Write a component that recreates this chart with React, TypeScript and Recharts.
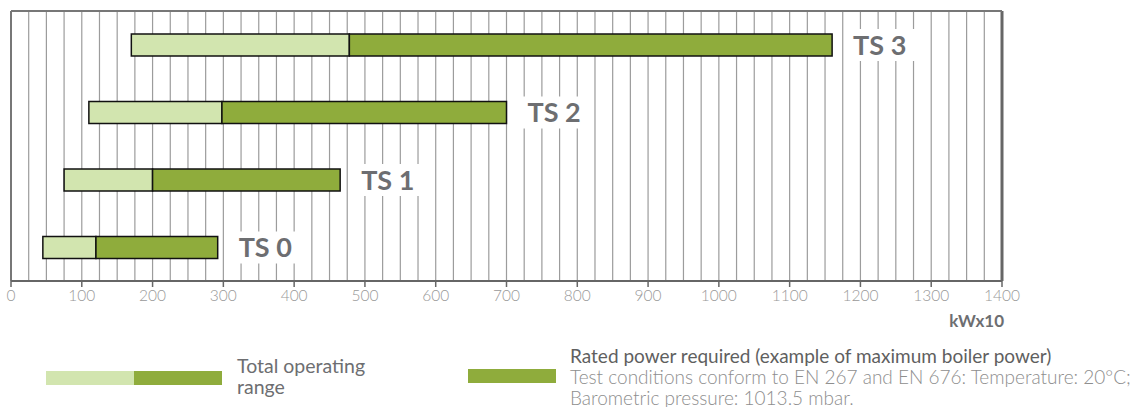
import { BarChart, Bar, XAxis, YAxis, CartesianGrid, ReferenceLine, LabelList } from 'recharts';

const models = ['TS 3', 'TS 2', 'TS 1', 'TS 0'];
const rangeStart = [170, 110, 75, 45];
const ratedStart = [478, 298, 200, 120];
const maxPower = [1160, 700, 465, 292];
const xTicks = [0, 100, 200, 300, 400, 500, 600, 700, 800, 900, 1000, 1100, 1200, 1300, 1400];
const gridStep = 25;

const LIGHT = '#d2e5af';
const DARK = '#8fac3c';
const TEXT = '#6d6e71';

const chartData = models.map((name, i) => ({
  name,
  offset: rangeStart[i],
  total: ratedStart[i] - rangeStart[i],
  rated: maxPower[i] - ratedStart[i],
}));

const gridValues = Array.from({ length: 1400 / gridStep + 1 }, (_, i) => i * gridStep);

const ModelLabel = (props: any) => {
  const { x, y, width, height, value } = props;
  const lx = x + width + 21;
  const cy = y + height / 2;
  return (
    <g>
      <rect x={lx - 6} y={cy - 16} width={72} height={32} fill="#fff" />
      <text x={lx} y={cy} dy="0.36em" fontSize={27} fontWeight={700} fill={TEXT} fontFamily="Lato">
        {value}
      </text>
    </g>
  );
};

export default function App() {
  return (
    <div style={{ position: 'fixed', left: 0, top: 0, width: 1134, height: 407, background: '#fff', fontFamily: 'Lato', overflow: 'hidden' }}>
      <BarChart
        width={1134}
        height={335}
        data={chartData}
        layout="vertical"
        barSize={22}
        margin={{ top: 11, right: 132, left: 11, bottom: 24 }}
      >
        <CartesianGrid horizontal={false} verticalValues={gridValues} stroke="#9c9c9c" strokeWidth={1.2} />
        <XAxis
          type="number"
          domain={[0, 1400]}
          ticks={xTicks}
          height={30}
          stroke="#666"
          axisLine={{ stroke: '#666', strokeWidth: 2 }}
          tickLine={{ stroke: '#666', strokeWidth: 1.5 }}
          tickSize={6}
          tickMargin={3}
          tick={{ fill: '#999', fontSize: 15.5, fontWeight: 300, fontFamily: 'Lato' }}
          interval={0}
        />
        <YAxis type="category" dataKey="name" hide />
        <ReferenceLine x={0} stroke="#777" strokeWidth={2} />
        <ReferenceLine x={1400} stroke="#666" strokeWidth={3} />
        <Bar dataKey="offset" stackId="a" fill="transparent" isAnimationActive={false} />
        <Bar dataKey="total" stackId="a" fill={LIGHT} stroke="#111" strokeWidth={1.5} isAnimationActive={false} />
        <Bar dataKey="rated" stackId="a" fill={DARK} stroke="#111" strokeWidth={1.5} isAnimationActive={false}>
          <LabelList dataKey="name" content={ModelLabel} />
        </Bar>
      </BarChart>
      <div style={{ position: 'absolute', top: 10, left: 11, width: 991, height: 0, borderTop: '2px solid #777' }} />
      <div style={{ position: 'absolute', top: 310, left: 904, width: 100, textAlign: 'right', fontSize: 17, fontWeight: 700, color: TEXT }}>
        kWx10
      </div>
      <div style={{ position: 'absolute', top: 371, left: 46, width: 88, height: 14, background: LIGHT }} />
      <div style={{ position: 'absolute', top: 371, left: 134, width: 88, height: 14, background: DARK }} />
      <div style={{ position: 'absolute', top: 355, left: 237, fontSize: 19.5, lineHeight: '21px', color: TEXT }}>
        Total operating
        <br />
        range
      </div>
      <div style={{ position: 'absolute', top: 369, left: 468, width: 88, height: 14, background: DARK }} />
      <div style={{ position: 'absolute', top: 345, left: 570, fontSize: 19, lineHeight: '21px', color: '#5f5f5f', whiteSpace: 'nowrap' }}>
        Rated power required (example of maximum boiler power)
        <br />
        <span style={{ color: '#8e8e8e', fontWeight: 300 }}>Test conditions conform to EN 267 and EN 676: Temperature: 20°C;</span>
        <br />
        <span style={{ color: '#8e8e8e', fontWeight: 300 }}>Barometric pressure: 1013.5 mbar.</span>
      </div>
    </div>
  );
}
